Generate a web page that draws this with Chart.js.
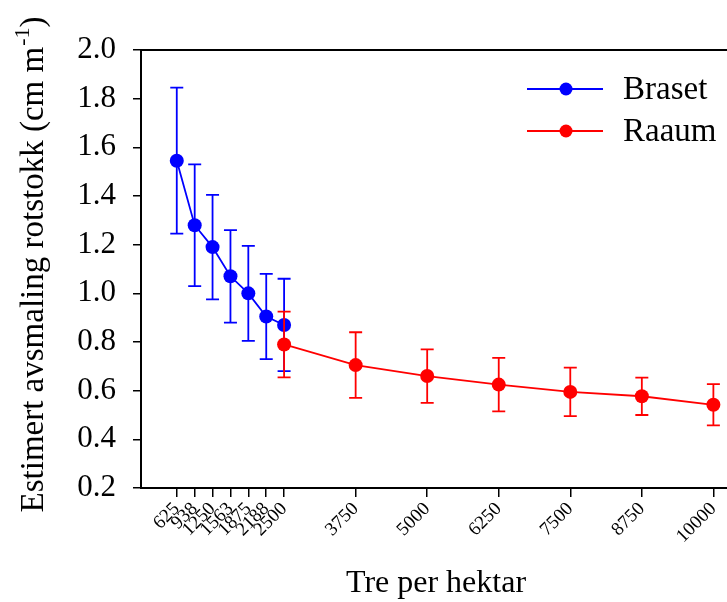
<!DOCTYPE html>
<html>
<head>
<meta charset="utf-8">
<script src="https://cdn.jsdelivr.net/npm/chart.js@4.4.1/dist/chart.umd.min.js"></script>
<style>
  html, body { margin: 0; padding: 0; background: #fff; overflow: hidden; }
  #wrap { width: 760px; height: 602px; }
</style>
</head>
<body>
<div id="wrap"><canvas id="avsmaling" width="760" height="602"></canvas></div>
<script>
// data
const xBraset = [625, 938, 1250, 1563, 1875, 2188, 2500];
const yBraset = [1.545, 1.28, 1.19, 1.07, 1.0, 0.905, 0.87];
const errBraset = [0.30, 0.25, 0.215, 0.19, 0.195, 0.175, 0.19];

const xRaaum = [2500, 3750, 5000, 6250, 7500, 8750, 10000];
const yRaaum = [0.79, 0.705, 0.66, 0.625, 0.595, 0.577, 0.542];
const errRaaum = [0.135, 0.135, 0.11, 0.11, 0.10, 0.077, 0.085];

const xTicks = [625, 938, 1250, 1563, 1875, 2188, 2500, 3750, 5000, 6250, 7500, 8750, 10000];
const yMin = 0.2, yMax = 2.0, yStep = 0.2;

const seriesNames = ['Braset', 'Raaum'];
const FONT = "'Liberation Serif', 'Times New Roman', serif";

function pts(xs, ys) {
    return xs.map((x, i) => ({ x: x, y: ys[i] }));
}

// error bars, drawn just before each dataset
const errorBars = {
    id: 'errorBars',
    beforeDatasetDraw(chart, args) {
        const ds = chart.data.datasets[args.index];
        if (!ds.err) return;
        const xs = chart.scales.x, ys = chart.scales.y;
        const ctx = chart.ctx;
        ctx.save();
        ctx.strokeStyle = ds.borderColor;
        ctx.lineWidth = 1.8;
        ds.data.forEach((p, i) => {
            const px = xs.getPixelForValue(p.x);
            const top = ys.getPixelForValue(p.y + ds.err[i]);
            const bot = ys.getPixelForValue(p.y - ds.err[i]);
            ctx.beginPath();
            ctx.moveTo(px, top); ctx.lineTo(px, bot);
            ctx.moveTo(px - 6.5, top); ctx.lineTo(px + 6.5, top);
            ctx.moveTo(px - 6.5, bot); ctx.lineTo(px + 6.5, bot);
            ctx.stroke();
        });
        ctx.restore();
    }
};

// frame, titles and legend
const decor = {
    id: 'decor',
    afterDraw(chart) {
        const ctx = chart.ctx;
        const a = chart.chartArea;
        ctx.save();
        ctx.strokeStyle = '#000';
        ctx.lineWidth = 2;
        ctx.strokeRect(a.left, a.top, a.right - a.left, a.bottom - a.top);

        ctx.fillStyle = '#000';
        ctx.font = '32px ' + FONT;
        ctx.textAlign = 'center';
        ctx.textBaseline = 'alphabetic';
        ctx.fillText('Tre per hektar', 436, 592);

        // y title with superscript
        const main = 'Estimert avsmaling rotstokk (cm m';
        const sup = '-1';
        const end = ')';
        ctx.font = '33px ' + FONT;
        const w1 = ctx.measureText(main).width;
        const w3 = ctx.measureText(end).width;
        ctx.font = '22px ' + FONT;
        const w2 = ctx.measureText(sup).width;
        const total = w1 + w2 + w3;
        ctx.translate(43, 265);
        ctx.rotate(-Math.PI / 2);
        ctx.textAlign = 'left';
        let x0 = -total / 2;
        ctx.font = '33px ' + FONT;
        ctx.fillText(main, x0, 0);
        ctx.font = '22px ' + FONT;
        ctx.fillText(sup, x0 + w1 + 1, -14);
        ctx.font = '33px ' + FONT;
        ctx.fillText(end, x0 + w1 + w2 + 1, 0);
        ctx.restore();

        // legend
        ctx.save();
        const rows = [89, 131];
        chart.data.datasets.slice().sort((p, q) => seriesNames.indexOf(p.label) - seriesNames.indexOf(q.label))
            .forEach((ds, i) => {
                const y = rows[i];
                ctx.strokeStyle = ds.borderColor;
                ctx.lineWidth = 1.8;
                ctx.beginPath();
                ctx.moveTo(527, y); ctx.lineTo(603, y);
                ctx.stroke();
                ctx.fillStyle = ds.backgroundColor;
                ctx.beginPath();
                ctx.arc(566, y, 6.5, 0, Math.PI * 2);
                ctx.fill();
                ctx.fillStyle = '#000';
                ctx.font = '33px ' + FONT;
                ctx.textAlign = 'left';
                ctx.textBaseline = 'middle';
                ctx.fillText(ds.label, 623, y + 1);
            });
        ctx.restore();
    }
};

const ctx = document.getElementById('avsmaling').getContext('2d');
new Chart(ctx, {
    type: 'line',
    data: {
        datasets: [
            {
                label: seriesNames[1],
                data: pts(xRaaum, yRaaum),
                err: errRaaum,
                borderColor: '#ff0000',
                backgroundColor: '#ff0000',
                borderWidth: 1.8,
                pointRadius: 7,
                pointBorderWidth: 0,
                tension: 0,
                order: 0
            },
            {
                label: seriesNames[0],
                data: pts(xBraset, yBraset),
                err: errBraset,
                borderColor: '#0000ff',
                backgroundColor: '#0000ff',
                borderWidth: 1.8,
                pointRadius: 7,
                pointBorderWidth: 0,
                tension: 0,
                order: 1
            }
        ]
    },
    options: {
        responsive: false,
        animation: false,
        layout: { padding: { left: 0, top: 50, right: 18, bottom: 0 } },
        plugins: {
            legend: { display: false },
            tooltip: { enabled: false }
        },
        scales: {
            x: {
                type: 'linear',
                min: 0,
                max: 10500,
                afterBuildTicks: (s) => { s.ticks = xTicks.map(v => ({ value: v })); },
                afterFit: (s) => { s.height = 114; },
                border: { display: false },
                grid: { drawOnChartArea: false, drawTicks: true, tickLength: 9, color: '#000', lineWidth: 1.5 },
                ticks: {
                    color: '#000',
                    font: { family: FONT, size: 19 },
                    maxRotation: 45,
                    minRotation: 45,
                    autoSkip: false,
                    padding: 1,
                    callback: (v) => String(v)
                }
            },
            y: {
                min: yMin,
                max: yMax,
                afterFit: (s) => { s.width = 141; },
                border: { display: false },
                grid: { drawOnChartArea: false, drawTicks: true, tickLength: 8, color: '#000', lineWidth: 1.5 },
                ticks: {
                    stepSize: yStep,
                    color: '#000',
                    font: { family: FONT, size: 31 },
                    padding: 17,
                    callback: (v) => v.toFixed(1)
                }
            }
        }
    },
    plugins: [errorBars, decor]
});
</script>
</body>
</html>
